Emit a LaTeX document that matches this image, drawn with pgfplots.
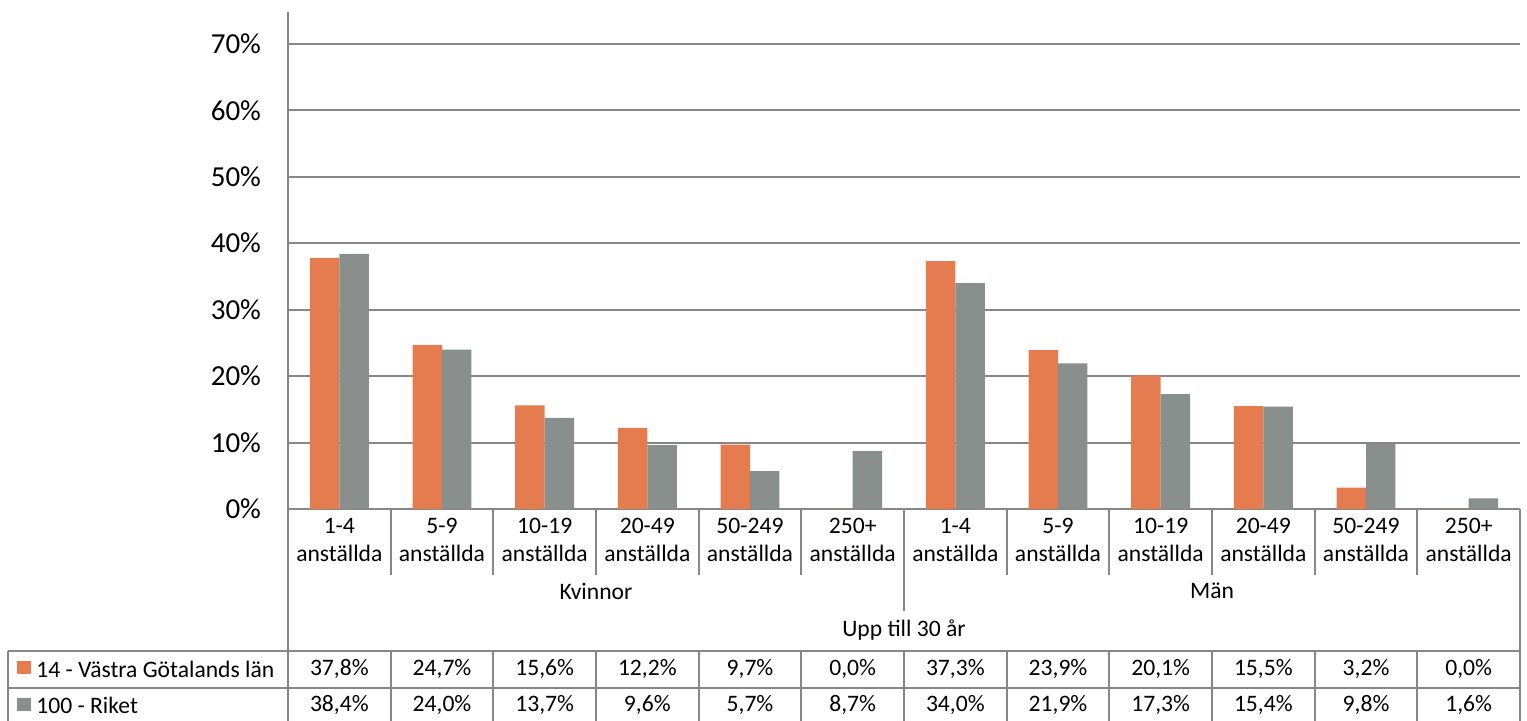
\documentclass[border=0pt]{standalone}
\usepackage{pgfplots}
\pgfplotsset{compat=1.18}
\usepackage{fontspec}
\setmainfont{Carlito}
\definecolor{vg}{HTML}{E57C4F}
\definecolor{rik}{HTML}{898F8C}
\definecolor{ln}{HTML}{878787}

\begin{document}
\begin{tikzpicture}
\begin{axis}[
  at={(144pt,-254.5pt)}, anchor=south west,
  scale only axis, width=616pt, height=248.5pt,
  xmin=-0.5, xmax=11.5, ymin=0, ymax=74.8,
  ybar=0pt, bar width=0.287,
  axis lines*=left,
  axis line style={ln, line width=1pt},
  ymajorgrids, grid style={ln, line width=1pt},
  ytick={0,10,...,70},
  yticklabel={\pgfmathprintnumber{\tick}\%},
  yticklabel style={font=\fontsize{14.5}{17}\selectfont, xshift=-10pt},
  xtick=\empty, major tick length=0pt,
  /pgf/number format/assume math mode=true,
]
% 14 - Västra Götalands län
\addplot[fill=vg, draw=none] coordinates {
  (0,37.8) (1,24.7) (2,15.6) (3,12.2) (4,9.7) (5,0.0)
  (6,37.3) (7,23.9) (8,20.1) (9,15.5) (10,3.2) (11,0.0)
};
% 100 - Riket
\addplot[fill=rik, draw=none] coordinates {
  (0,38.4) (1,24.0) (2,13.7) (3,9.6) (4,5.7) (5,8.7)
  (6,34.0) (7,21.9) (8,17.3) (9,15.4) (10,9.8) (11,1.6)
};
\end{axis}

% data table below the plot, in pixel units (y down)
\begin{scope}[x=0.5pt, y=-0.5pt, font=\fontsize{11.8}{14}\selectfont]
\path[use as bounding box] (0,0) rectangle (1527,721);
\def\cw{102.667}
\begin{scope}[ln, line width=1pt]
  \foreach \k in {1,...,11} {
    \draw ({288+\k*\cw},509) -- ({288+\k*\cw},575);
    \draw ({288+\k*\cw},651) -- ({288+\k*\cw},721);
  }
  \draw ({288+6*\cw},509) -- ({288+6*\cw},611);
  \draw (288,509) -- (288,721);
  \draw (1520,509) -- (1520,721);
  \draw (8,651) -- (1520,651);
  \draw (8,688) -- (1520,688);
  \draw (8,651) -- (8,721);
\end{scope}

\foreach \lab [count=\i from 0] in {1-4,5-9,10-19,20-49,50-249,250+,1-4,5-9,10-19,20-49,50-249,250+} {
  \node at ({288+(\i+0.5)*\cw},526) {\lab};
  \node at ({288+(\i+0.5)*\cw},553) {anställda};
}
\node at ({288+3*\cw},591) {Kvinnor};
\node at ({288+9*\cw},591) {Män};
\node at ({288+6*\cw},630) {Upp till 30 år};

\fill[vg] (17,661) rectangle (31,674);
\node[anchor=west, inner sep=0pt] at (36,669) {14 - Västra Götalands län};
\fill[rik] (17,698) rectangle (31,711);
\node[anchor=west, inner sep=0pt] at (36,705) {100 - Riket};

\foreach \v [count=\i from 0] in {{37,8\%},{24,7\%},{15,6\%},{12,2\%},{9,7\%},{0,0\%},{37,3\%},{23,9\%},{20,1\%},{15,5\%},{3,2\%},{0,0\%}} {
  \node at ({288+(\i+0.5)*\cw},669) {\v};
}
\foreach \v [count=\i from 0] in {{38,4\%},{24,0\%},{13,7\%},{9,6\%},{5,7\%},{8,7\%},{34,0\%},{21,9\%},{17,3\%},{15,4\%},{9,8\%},{1,6\%}} {
  \node at ({288+(\i+0.5)*\cw},705) {\v};
}
\end{scope}
\end{tikzpicture}
\end{document}
